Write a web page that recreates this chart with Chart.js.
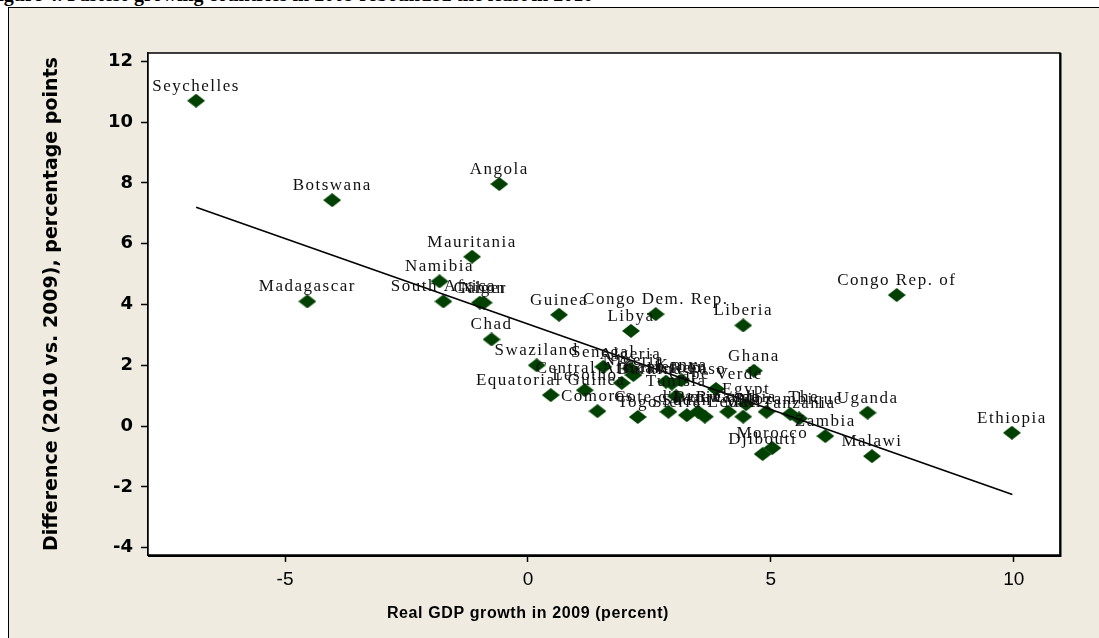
<!DOCTYPE html>
<html>
<head>
<meta charset="utf-8">
<script src="https://cdn.jsdelivr.net/npm/chart.js@4.4.0/dist/chart.umd.min.js"></script>
<style>
  html, body { margin: 0; padding: 0; background: #fff; }
  #wrap { position: relative; width: 1099px; height: 638px; overflow: hidden; }
  #title { position: absolute; left: -14px; top: -17px; white-space: nowrap;
           font: bold 20px 'Liberation Serif', serif; color: #000; }
  #box { position: absolute; left: 8px; top: 7px; width: 1200px; height: 700px;
         background: #efebe1; border-left: 1px solid #000; border-top: 1px solid #000; }
  canvas { position: absolute; left: 0; top: 0; }
</style>
</head>
<body>
<div id="wrap">
  <div id="title">Figure 4. Fastest-growing countries in 2009 rebounded the least in 2010</div>
  <div id="box"></div>
  <canvas id="chart" width="1099" height="638"></canvas>
</div>
<script>
// countries, real GDP growth 2009 (x) and 2010-vs-2009 difference (y)
let countries = [
  'Seychelles', 'Botswana', 'Angola', 'Mauritania', 'Namibia', 'Madagascar',
  'South Africa', 'Gabon', 'Niger', 'Guinea', 'Chad', 'Swaziland',
  'Congo Dem. Rep.', 'Libya', 'Liberia', 'Congo Rep. of', 'Ghana', 'Uganda',
  'Ethiopia', 'Malawi', 'Zambia', 'Djibouti', 'Morocco', 'Tanzania',
  'Mozambique', 'Egypt', 'Gambia, The', 'Mali', 'Senegal', 'Algeria',
  'Nigeria', 'Central African Rep.', 'Cameroon', 'Burkina Faso', 'Cape Verde',
  'Kenya', 'Tunisia', 'Lesotho', 'Equatorial Guinea', 'Comoros',
  "Cote d'Ivoire", 'Togo', 'Sudan', 'Benin', 'Sierra Leone', 'Rwanda'
];
let gdpGrowth = [
  -6.83, -4.03, -0.59, -1.15, -1.82, -4.54,
  -1.74, -0.99, -0.91, 0.64, -0.75, 0.18,
  2.63, 2.12, 4.43, 7.59, 4.65, 6.99,
  9.96, 7.08, 6.12, 4.83, 5.03, 5.58,
  5.40, 4.49, 4.91, 4.43, 1.55, 2.11,
  2.17, 1.93, 2.84, 2.96, 3.87,
  3.16, 3.05, 1.17, 0.47, 1.43,
  2.89, 2.26, 3.27, 3.50, 3.64, 4.12
];
let difference = [
  10.70, 7.43, 7.96, 5.57, 4.76, 4.10,
  4.10, 4.06, 4.06, 3.66, 2.85, 2.00,
  3.68, 3.13, 3.31, 4.31, 1.82, 0.44,
  -0.22, -0.99, -0.33, -0.92, -0.72, 0.25,
  0.40, 0.72, 0.47, 0.31, 1.95, 1.89,
  1.68, 1.42, 1.46, 1.40, 1.22,
  1.51, 0.98, 1.18, 1.02, 0.49,
  0.47, 0.30, 0.36, 0.47, 0.31, 0.47
];
// fitted line end points
let fitX = [-6.83, 9.97];
let fitY = [7.20, -2.25];

let points = gdpGrowth.map((x, i) => ({x: x, y: difference[i]}));
let fitLine = fitX.map((x, i) => ({x: x, y: fitY[i]}));

// squashed diamond marker
let marker = document.createElement('canvas');
marker.width = 18;
marker.height = 14;
let mctx = marker.getContext('2d');
mctx.fillStyle = '#004000';
mctx.beginPath();
mctx.moveTo(9, 0);
mctx.lineTo(18, 7);
mctx.lineTo(9, 14);
mctx.lineTo(0, 7);
mctx.closePath();
mctx.fill();

const labelPlugin = {
  id: 'labels',
  afterDatasetsDraw(chart) {
    const ctx = chart.ctx;
    const meta = chart.getDatasetMeta(1);
    ctx.save();
    ctx.font = '17px "Liberation Serif", serif';
    ctx.letterSpacing = '1.5px';
    ctx.fillStyle = '#111';
    ctx.textAlign = 'center';
    ctx.textBaseline = 'alphabetic';
    meta.data.forEach((el, i) => {
      ctx.fillText(countries[i], el.x, el.y - 10);
    });
    ctx.restore();
  }
};

const framePlugin = {
  id: 'frame',
  beforeDatasetsDraw(chart) {
    const a = chart.chartArea;
    chart.ctx.save();
    chart.ctx.fillStyle = '#fff';
    chart.ctx.fillRect(a.left, a.top, a.right - a.left, a.bottom - a.top);
    chart.ctx.restore();
  },
  afterDraw(chart) {
    const a = chart.chartArea;
    const ctx = chart.ctx;
    ctx.save();
    ctx.strokeStyle = '#000';
    ctx.lineWidth = 1.5;
    ctx.strokeRect(a.left, a.top, a.right - a.left, a.bottom - a.top);
    ctx.lineWidth = 2;
    ctx.beginPath();
    ctx.moveTo(a.right + 0.5, a.top);
    ctx.lineTo(a.right + 0.5, a.bottom + 1);
    ctx.lineTo(a.left, a.bottom + 1);
    ctx.stroke();
    // x axis title, sits under the zero mark in the original
    ctx.font = 'bold 16px "Liberation Sans", sans-serif';
    ctx.letterSpacing = '0.6px';
    ctx.fillStyle = '#000';
    ctx.textAlign = 'center';
    ctx.textBaseline = 'middle';
    ctx.fillText('Real GDP growth in 2009 (percent)', 528, 614);
    ctx.restore();
  }
};

const config = {
  type: 'scatter',
  data: {
    datasets: [{
      type: 'line',
      data: fitLine,
      borderColor: '#000',
      borderWidth: 1.6,
      pointRadius: 0,
      fill: false
    }, {
      data: points,
      pointStyle: marker,
      pointRadius: 9
    }]
  },
  options: {
    responsive: false,
    animation: false,
    events: [],
    layout: { padding: { top: 53, right: 39, bottom: 0, left: 0 } },
    plugins: {
      legend: { display: false },
      tooltip: { enabled: false }
    },
    scales: {
      x: {
        type: 'linear',
        min: -7.82,
        max: 10.95,
        afterFit: function (scale) { scale.height = 83; },
        border: { color: '#000', width: 1.5 },
        grid: { drawOnChartArea: false, color: '#000', tickLength: 7, tickWidth: 1.5 },
        ticks: {
          stepSize: 5,
          includeBounds: false,
          padding: 6,
          color: '#000',
          font: { family: "'Liberation Sans Narrow', 'Liberation Sans', sans-serif", size: 19 }
        },
        title: { display: false }
      },
      y: {
        min: -4.24,
        max: 12.27,
        afterFit: function (scale) { scale.width = 148; },
        border: { color: '#000', width: 1.5 },
        grid: { drawOnChartArea: false, color: '#000', tickLength: 7, tickWidth: 1.5 },
        ticks: {
          stepSize: 2,
          includeBounds: false,
          padding: 8,
          color: '#000',
          font: { family: "'DejaVu Sans', sans-serif", size: 18, weight: 'bold' }
        },
        title: {
          display: true,
          text: 'Difference (2010 vs. 2009), percentage points',
          color: '#000',
          font: { family: "'DejaVu Sans', sans-serif", size: 19, weight: 'bold' },
          padding: { top: 41, bottom: 0 }
        }
      }
    }
  },
  plugins: [framePlugin, labelPlugin]
};

let myChart = new Chart(document.getElementById('chart'), config);
</script>
</body>
</html>
